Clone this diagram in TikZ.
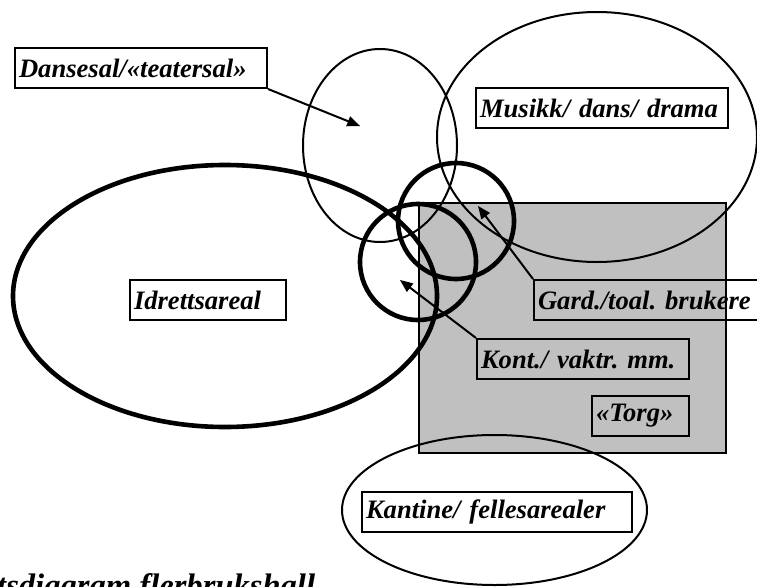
\documentclass[tikz,border=0pt]{standalone}
\usepackage{fontspec}
\setmainfont{Liberation Serif}
\usepackage{tikz}
\usetikzlibrary{arrows}
\frenchspacing
\newcommand{\labfont}{\fontsize{26.6}{30}\selectfont\bfseries\itshape}
\newcommand{\titlefont}{\fontsize{32.6}{36}\selectfont\bfseries\itshape}
\tikzset{
    lab/.style={draw, line width=2pt, anchor=north west, inner xsep=4pt, inner ysep=0pt,
                minimum height=40pt, align=left, font=\labfont},
    thinring/.style={line width=2pt},
    thickring/.style={line width=4.6pt},
    pil/.style={line width=2pt, -triangle 45}
}
\begin{document}
\begin{tikzpicture}[x=1pt, y=-1pt]
                \useasboundingbox (0,0) rectangle (757,586);
                \coordinate (Dt) at (360,126);
                \coordinate (Gt) at (478,206);
                \coordinate (Kt) at (400,280);
                
                \draw[line width=1.5pt, fill={rgb,255:red,192;green,192;blue,192}] (419,203) rectangle (726,453);
                \draw[thinring] (380,145.5) ellipse [x radius=77, y radius=96.5];
                \draw[thinring] (597,137) ellipse [x radius=160, y radius=125];
                \draw[thinring] (494.5,510) ellipse [x radius=152.5, y radius=75];
                \draw[thickring] (225,296) ellipse [x radius=212, y radius=131];
                \draw[thickring] (456,221) circle [radius=58];
                \draw[thickring] (418,262) circle [radius=58];
                
                \node[lab, text width=244pt] (dans) at (14,47) {Dansesal/«teatersal»};
                \node[lab, text width=244pt] (musikk) at (475,87) {Musikk/ dans/ drama};
                \node[lab, text width=148pt] (idrett) at (129,279) {Idrettsareal};
                \node[lab, text width=232pt] (gard) at (533,279) {Gard./toal. brukere};
                \node[lab, text width=204pt] (kont) at (476,338) {Kont./ vaktr. mm.};
                \node[lab, text width=89pt] (torg) at (591,395) {«Torg»};
                \node[lab, text width=262pt] (kantine) at (361,491) {Kantine/ fellesarealer};
                
                \draw[pil] (dans.south east) -- (Dt);
                \draw[pil] (gard.north west) -- (Gt);
                \draw[pil] (kont.north west) -- (Kt);
                
                \node[anchor=base west, inner sep=0pt, font=\titlefont] (tittel) at (-3,596) {tsdiagram flerbrukshall};
            \end{tikzpicture}
\end{document}
